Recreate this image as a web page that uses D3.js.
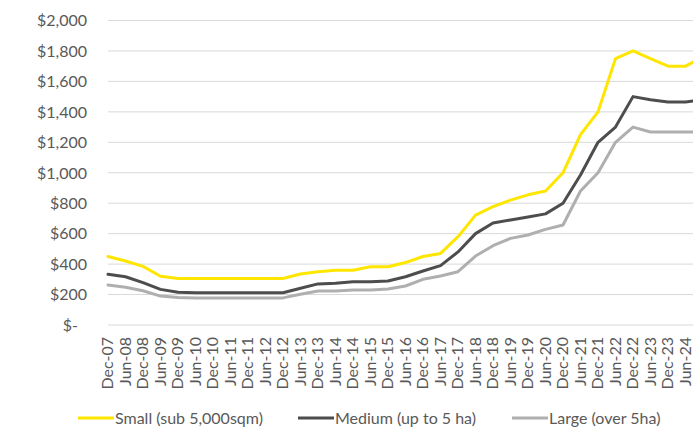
<!DOCTYPE html>
<html>
<head>
<meta charset="utf-8">
<script src="https://cdn.jsdelivr.net/npm/d3@7"></script>
<style>
  html, body { margin: 0; padding: 0; background: #fff; overflow: hidden; }
  svg { display: block; font-family: Lato, "Open Sans", sans-serif; }
</style>
</head>
<body>
<svg id="chart" width="693" height="430"></svg>
<script>
// Half-yearly periods
const categories = ["Dec-07","Jun-08","Dec-08","Jun-09","Dec-09","Jun-10","Dec-10","Jun-11","Dec-11","Jun-12",
  "Dec-12","Jun-13","Dec-13","Jun-14","Dec-14","Jun-15","Dec-15","Jun-16","Dec-16","Jun-17",
  "Dec-17","Jun-18","Dec-18","Jun-19","Dec-19","Jun-20","Dec-20","Jun-21","Dec-21","Jun-22",
  "Dec-22","Jun-23","Dec-23","Jun-24","Dec-24"];

// Rate per sqm by lot size
const small  = [450,420,385,320,305,305,305,305,305,305,305,335,350,360,360,383,383,410,450,470,
                580,722,777,820,855,880,1000,1250,1400,1750,1800,1750,1700,1700,1760];
const medium = [333,317,278,234,215,212,212,212,212,212,212,241,270,274,284,284,289,317,355,390,
                480,600,670,690,710,730,800,985,1200,1300,1500,1480,1465,1465,1480];
const large  = [263,248,225,190,180,178,178,178,178,178,178,202,223,223,230,230,236,256,300,322,
                350,453,521,569,591,628,657,880,1000,1200,1300,1268,1268,1268,1268];

const yTicks = [0,200,400,600,800,1000,1200,1400,1600,1800,2000];
const tickLabels = categories.slice(0, 34);

const seriesNames = ["Small (sub 5,000sqm)", "Medium (up to 5 ha)", "Large (over 5ha)"];
const seriesColors = ["#FFE600", "#4D4D4D", "#AFAFAF"];
const seriesData = [small, medium, large];

const svg = d3.select("#chart");
const plotLeft = 108, plotRight = 703, plotTop = 20.5, plotBottom = 325;

const x = d3.scalePoint().domain(categories).range([plotLeft, plotRight]);
const y = d3.scaleLinear().domain([0, 2000]).range([plotBottom, plotTop]);

// Horizontal gridlines
svg.append("g").selectAll("line").data(yTicks).join("line")
  .attr("x1", plotLeft).attr("x2", 720)
  .attr("y1", d => y(d)).attr("y2", d => y(d))
  .attr("stroke", "#D9D9D9").attr("stroke-width", 1);

// Y axis labels
const fmt = d => d === 0 ? "$-" : "$" + d3.format(",")(d);
svg.append("g").selectAll("text").data(yTicks).join("text")
  .attr("x", d => d === 0 ? 78 : 87)
  .attr("y", d => y(d))
  .attr("dy", "0.36em")
  .attr("text-anchor", "end")
  .attr("font-size", 16)
  .attr("fill", "#595959")
  .text(fmt);

// X axis labels (rotated)
svg.append("g").selectAll("text").data(tickLabels).join("text")
  .attr("transform", d => `translate(${x(d)},337) rotate(-90)`)
  .attr("dy", "0.33em")
  .attr("text-anchor", "end")
  .attr("font-size", 16)
  .attr("fill", "#595959")
  .text(d => d);

// Series lines
const line = d3.line()
  .x((d, i) => x(categories[i]))
  .y(d => y(d));

svg.append("g").selectAll("path").data(seriesData).join("path")
  .attr("d", d => line(d))
  .attr("fill", "none")
  .attr("stroke", (d, i) => seriesColors[i])
  .attr("stroke-width", 3)
  .attr("stroke-linejoin", "round")
  .attr("stroke-linecap", "round");

// Legend
const legendX = [78, 298, 512];
const lg = svg.append("g").selectAll("g").data(seriesNames).join("g")
  .attr("transform", (d, i) => `translate(${legendX[i]},418)`);
lg.append("line")
  .attr("x1", 0).attr("x2", 36).attr("y1", 0).attr("y2", 0)
  .attr("stroke", (d, i) => seriesColors[i]).attr("stroke-width", 3);
lg.append("text")
  .attr("x", 37).attr("y", 0).attr("dy", "0.36em")
  .attr("font-size", 16).attr("fill", "#595959")
  .text(d => d);
</script>
</body>
</html>
